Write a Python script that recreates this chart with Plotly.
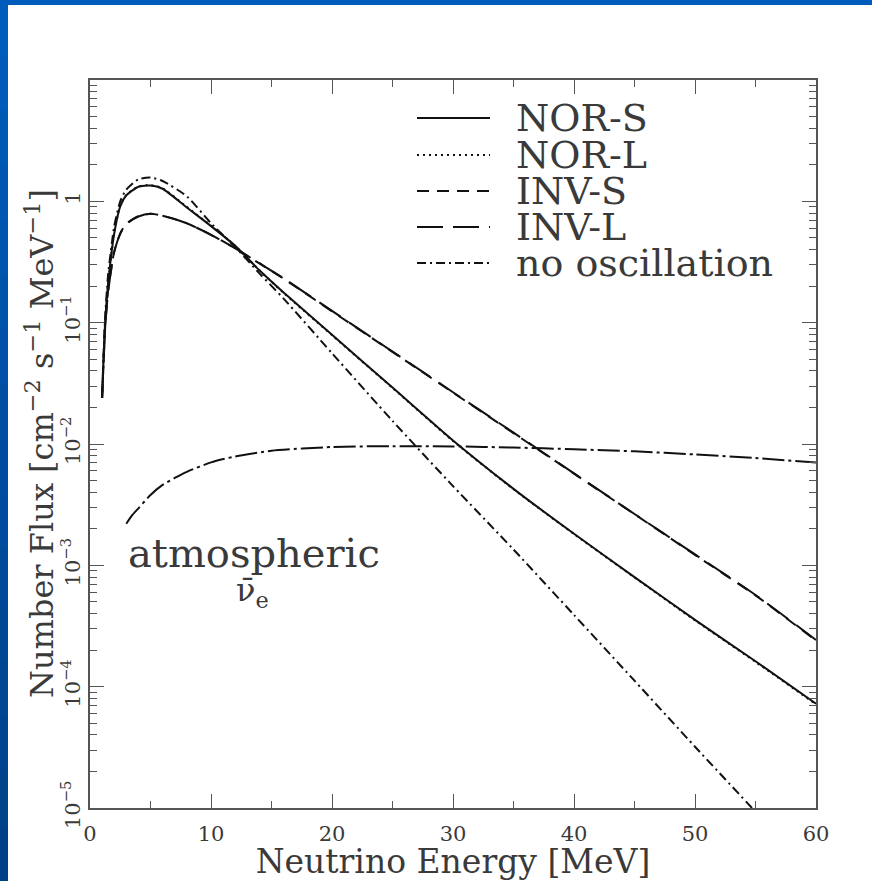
import plotly.graph_objects as go

# ---------------- data ----------------
energy = [1, 1.25, 1.5, 2, 2.5, 3, 4, 5, 6, 8, 10, 12, 14, 16, 20, 25, 30, 35, 40, 45, 50, 55, 60]

nor_s = [0.024, 0.10, 0.21, 0.54, 0.91, 1.12, 1.32, 1.35, 1.27, 0.89, 0.625, 0.43, 0.27, 0.177,
         0.0794, 0.0292, 0.0107, 0.00427, 0.00182, 0.00080, 0.000355, 0.000162, 0.0000724]
nor_l = [0.024, 0.10, 0.21, 0.55, 0.92, 1.13, 1.33, 1.36, 1.28, 0.90, 0.63, 0.43, 0.27, 0.176,
         0.0788, 0.029, 0.0106, 0.00424, 0.00181, 0.000795, 0.000352, 0.00016, 0.0000715]
inv_s = [0.024, 0.09, 0.185, 0.385, 0.545, 0.655, 0.755, 0.79, 0.76, 0.66, 0.53, 0.41, 0.308, 0.231,
         0.124, 0.0575, 0.0265, 0.0123, 0.0057, 0.00264, 0.00122, 0.000565, 0.00024]
inv_l = [0.024, 0.09, 0.18, 0.38, 0.54, 0.65, 0.75, 0.79, 0.76, 0.66, 0.53, 0.41, 0.309, 0.232,
         0.125, 0.0578, 0.0267, 0.0124, 0.00573, 0.00265, 0.00123, 0.00057, 0.000243]
no_osc = [0.025, 0.11, 0.25, 0.62, 1.0, 1.25, 1.52, 1.57, 1.47, 1.1, 0.66, 0.42, 0.255, 0.158,
          0.056, 0.0155, 0.0045, 0.00135, 0.00039, 0.000112, 0.000032, 0.0000093, 0.0000026]

atm_energy = [3, 3.5, 4, 5, 6, 7, 8, 10, 12, 15, 20, 25, 30, 35, 40, 45, 50, 55, 60]
atm_flux = [2.2e-3, 2.6e-3, 2.95e-3, 3.8e-3, 4.6e-3, 5.25e-3, 5.9e-3, 7.05e-3, 7.9e-3, 8.8e-3,
            9.45e-3, 9.6e-3, 9.55e-3, 9.35e-3, 9.05e-3, 8.7e-3, 8.2e-3, 7.65e-3, 7.05e-3]

legend_labels = ["NOR-S", "NOR-L", "INV-S", "INV-L", "no oscillation"]
x_ticks = [0, 10, 20, 30, 40, 50, 60]
y_tickvals = [1e-5, 1e-4, 1e-3, 1e-2, 1e-1, 1]
y_ticktext = ["10<sup>−5</sup>", "10<sup>−4</sup>", "10<sup>−3</sup>", "10<sup>−2</sup>",
              "10<sup>−1</sup>", "1"]

# ---------------- styles ----------------
INK = "#111111"
AXC = "#555555"
TXT = "#3a3a3a"
FONT = "DejaVu Serif"

dashes = {
    "NOR-S": "solid",
    "NOR-L": "2px,4px",
    "INV-S": "12px,8px",
    "INV-L": "26px,10px",
    "no oscillation": "9px,4px,2px,4px",
}

fig = go.Figure()


def add_line(x, y, name, dash, width=2.0):
    fig.add_trace(go.Scatter(
        x=x, y=y, mode="lines", name=name, showlegend=False, hoverinfo="skip",
        line=dict(color=INK, width=width, dash=dash, shape="spline", smoothing=0.6)))


add_line(atm_energy, atm_flux, "atmospheric", "22px,4px,3px,4px", 2.0)
add_line(energy, no_osc, "no oscillation", dashes["no oscillation"])
add_line(energy, inv_l, "INV-L", dashes["INV-L"])
add_line(energy, inv_s, "INV-S", dashes["INV-S"])
add_line(energy, nor_l, "NOR-L", dashes["NOR-L"])
add_line(energy, nor_s, "NOR-S", dashes["NOR-S"])

# ---------------- layout ----------------
W, H = 872, 881
ML, MR, MT, MB = 90, 56, 80, 73
PW, PH = W - ML - MR, H - MT - MB


def px_x(p):
    return (p - ML) / PW


def px_y(p):
    return (H - MB - p) / PH


shapes = []
annotations = []

# manual legend
legend_rows = [118, 155, 191, 227, 263]
for lab, row in zip(legend_labels, legend_rows):
    shapes.append(dict(type="line", xref="paper", yref="paper",
                       x0=px_x(417), x1=px_x(490), y0=px_y(row), y1=px_y(row),
                       line=dict(color=INK, width=2, dash=dashes[lab])))
    annotations.append(dict(xref="paper", yref="paper", x=px_x(514), y=px_y(row),
                            xanchor="left", yanchor="middle", text=lab, showarrow=False,
                            font=dict(family=FONT, size=38, color=TXT)))

annotations.append(dict(xref="paper", yref="paper", x=px_x(126), y=px_y(553),
                        xanchor="left", yanchor="middle", text="atmospheric", showarrow=False,
                        font=dict(family=FONT, size=40, color=TXT)))
annotations.append(dict(xref="paper", yref="paper", x=px_x(234), y=px_y(592),
                        xanchor="left", yanchor="middle", text="ν\u0304<sub>e</sub>",
                        showarrow=False, font=dict(family=FONT, size=32, color=TXT)))

# y-axis title
annotations.append(dict(xref="paper", yref="paper", x=px_x(40), y=0.5,
                        xanchor="center", yanchor="middle", textangle=-90, showarrow=False,
                        text="Number Flux [cm<sup>−2</sup> s<sup>−1</sup> MeV<sup>−1</sup>]",
                        font=dict(family=FONT, size=32, color=TXT)))

# blue slide border
shapes.append(dict(type="rect", xref="paper", yref="paper", x0=px_x(0), x1=px_x(W),
                   y0=px_y(0), y1=px_y(5), fillcolor="#005bbb", line=dict(width=0), layer="below"))
nseg = 16
top_c = (0, 92, 188)
bot_c = (0, 64, 136)
for i in range(nseg):
    t = i / (nseg - 1)
    c = tuple(int(round(a + (b - a) * t)) for a, b in zip(top_c, bot_c))
    shapes.append(dict(type="rect", xref="paper", yref="paper", x0=px_x(0), x1=px_x(8),
                       y0=px_y(H * i / nseg), y1=px_y(H * (i + 1) / nseg + 1),
                       fillcolor="rgb(%d,%d,%d)" % c, line=dict(width=0), layer="below"))

axis_common = dict(showline=True, linecolor=AXC, linewidth=1.5, mirror="ticks",
                   ticks="inside", ticklen=14, tickwidth=1.3, tickcolor=AXC,
                   showgrid=False, zeroline=False,
                   tickfont=dict(family=FONT, size=21, color=TXT))

fig.update_layout(
    width=W, height=H,
    margin=dict(l=ML, r=MR, t=MT, b=MB, autoexpand=False),
    paper_bgcolor="white", plot_bgcolor="white",
    showlegend=False,
    shapes=shapes, annotations=annotations,
    xaxis=dict(range=[0, 60], tickvals=x_ticks,
               minor=dict(dtick=5, ticks="inside", ticklen=7, tickwidth=1.3, tickcolor=AXC,
                          showgrid=False),
               ticklabelstandoff=6,
               title=dict(text="Neutrino Energy [MeV]", standoff=8,
                          font=dict(family=FONT, size=33, color=TXT)),
               automargin=False, **axis_common),
    yaxis=dict(type="log", range=[-5, 1], tickvals=y_tickvals, ticktext=y_ticktext,
               tickangle=-90,
               minor=dict(dtick="D1", ticks="inside", ticklen=7, tickwidth=1.3, tickcolor=AXC,
                          showgrid=False),
               ticklabelstandoff=0,
               automargin=False, **axis_common),
)

fig.write_html("out.html")
